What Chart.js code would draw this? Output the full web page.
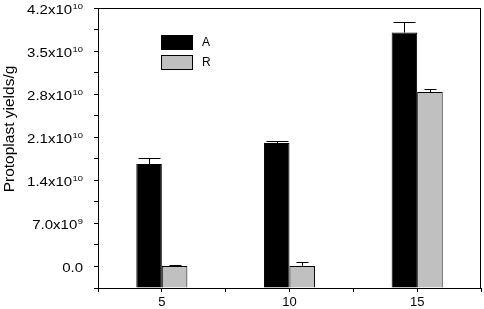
<!DOCTYPE html>
<html>
<head>
<meta charset="utf-8">
<script src="https://cdn.jsdelivr.net/npm/chart.js@4"></script>
<style>
  html, body { margin: 0; padding: 0; background: #fff; }
  #wrap { width: 484px; height: 309px; }
</style>
</head>
<body>
<div id="wrap"><canvas id="chart"></canvas></div>
<script>
// values
const doses = [5, 10, 15];
const seriesA = [1.66e10, 2.0e10, 3.80e10];
const seriesR = [0, 0, 2.83e10];
const errorA = [1.0e9, 3.3e8, 1.8e9];
const errorR = [1.5e8, 6.5e8, 5e8];

const yTickValues = [0, 7e9, 1.4e10, 2.1e10, 2.8e10, 3.5e10, 4.2e10];
const yTickBase = ['0.0', '7.0x10', '1.4x10', '2.1x10', '2.8x10', '3.5x10', '4.2x10'];
const yTickSup = ['', '9', '10', '10', '10', '10', '10'];
const yMin = -3.6e9;
const yMax = 4.2e10;
const yTitle = 'Protoplast yields/g';

const FONT = '"Liberation Sans", Arial, sans-serif';
Chart.defaults.font.family = FONT;
Chart.defaults.color = '#000';

function stretchedText(ctx, text, x, y, sx) {
    ctx.save();
    ctx.translate(x, y);
    ctx.scale(sx, 1);
    ctx.fillText(text, 0, 0);
    ctx.restore();
}

// upper error bars with caps
const errorBars = {
    id: 'errorBars',
    afterDatasetsDraw(chart) {
        const ctx = chart.ctx;
        const ys = chart.scales.y;
        ctx.save();
        ctx.strokeStyle = '#000';
        ctx.lineWidth = 1;
        chart.data.datasets.forEach((ds, di) => {
            const meta = chart.getDatasetMeta(di);
            meta.data.forEach((bar, i) => {
                const top = Math.round(ys.getPixelForValue(ds.data[i].y + ds.errors[i])) + 0.5;
                const x = Math.round(bar.x) + 0.5;
                const half = ds.capWidth / 2;
                ctx.beginPath();
                ctx.moveTo(x, bar.y);
                ctx.lineTo(x, top);
                ctx.moveTo(x - half, top);
                ctx.lineTo(x + half, top);
                ctx.stroke();
            });
        });
        ctx.restore();
    }
};

// frame, y labels with superscripts, title and legend
const decorations = {
    id: 'decorations',
    afterDraw(chart) {
        const ctx = chart.ctx;
        const a = chart.chartArea;
        const ys = chart.scales.y;
        ctx.save();
        ctx.strokeStyle = '#000';
        ctx.lineWidth = 1;
        ctx.strokeRect(Math.round(a.left) + 0.5, Math.round(a.top) + 0.5,
            Math.round(a.right - a.left) - 1, Math.round(a.bottom - a.top));

        ctx.fillStyle = '#000';
        ctx.textAlign = 'left';
        ctx.textBaseline = 'alphabetic';
        const sx = 1.25;
        const right = a.left - 15;
        yTickValues.forEach((v, i) => {
            const py = ys.getPixelForValue(v);
            ctx.font = '7.5px ' + FONT;
            const supW = ctx.measureText(yTickSup[i]).width * sx;
            ctx.font = '12px ' + FONT;
            const baseW = ctx.measureText(yTickBase[i]).width * sx;
            const x0 = right - supW - baseW - (yTickSup[i] ? 0.5 : 0);
            stretchedText(ctx, yTickBase[i], x0, py + 6, sx);
            if (yTickSup[i]) {
                ctx.font = '7.5px ' + FONT;
                stretchedText(ctx, yTickSup[i], x0 + baseW + 0.5, py + 1, sx);
            }
        });

        ctx.save();
        ctx.font = '15.5px ' + FONT;
        ctx.textAlign = 'center';
        ctx.textBaseline = 'middle';
        ctx.translate(10, 129);
        ctx.rotate(-Math.PI / 2);
        ctx.fillText(yTitle, 0, 0);
        ctx.restore();

        ctx.font = '12px ' + FONT;
        ctx.textBaseline = 'middle';
        chart.data.datasets.forEach((ds, i) => {
            const bx = a.left + 63;
            const by = a.top + 27 + i * 20;
            ctx.fillStyle = ds.backgroundColor;
            ctx.fillRect(bx, by, 32, 15);
            ctx.strokeRect(bx + 0.5, by + 0.5, 31, 14);
            ctx.fillStyle = '#000';
            ctx.fillText(ds.label, bx + 41, by + 8);
        });
        ctx.restore();
    }
};

new Chart(document.getElementById('chart'), {
    type: 'bar',
    data: {
        datasets: [
            {
                label: 'A',
                data: doses.map((d, i) => ({ x: d, y: seriesA[i] })),
                errors: errorA,
                capWidth: 22,
                backgroundColor: '#000000',
                borderColor: '#000000',
                borderWidth: 1,
                base: yMin,
                categoryPercentage: 0.8,
                barPercentage: 1
            },
            {
                label: 'R',
                data: doses.map((d, i) => ({ x: d, y: seriesR[i] })),
                errors: errorR,
                capWidth: 12,
                backgroundColor: '#c0c0c0',
                borderColor: '#000000',
                borderWidth: 1,
                base: yMin,
                categoryPercentage: 0.8,
                barPercentage: 1
            }
        ]
    },
    options: {
        responsive: true,
        maintainAspectRatio: false,
        animation: false,
        layout: { padding: { top: 8, right: 1, left: 0, bottom: 0 } },
        plugins: {
            legend: { display: false },
            tooltip: { enabled: false }
        },
        scales: {
            x: {
                type: 'linear',
                min: 2.5,
                max: 17.5,
                offset: false,
                border: { display: false },
                grid: { offset: false, drawOnChartArea: false, tickLength: 4, color: '#000' },
                ticks: {
                    stepSize: 2.5,
                    maxRotation: 0,
                    padding: 3,
                    font: { size: 13 },
                    callback: v => (v % 5 === 0 ? String(v) : '')
                },
                afterFit: scale => { scale.height = 21; }
            },
            y: {
                min: yMin,
                max: yMax,
                border: { display: false },
                grid: { drawOnChartArea: false, tickLength: 4, color: '#000' },
                ticks: { display: false, stepSize: 3.5e9, maxTicksLimit: 30 },
                afterFit: scale => { scale.width = 98; }
            }
        }
    },
    plugins: [errorBars, decorations]
});
</script>
</body>
</html>
